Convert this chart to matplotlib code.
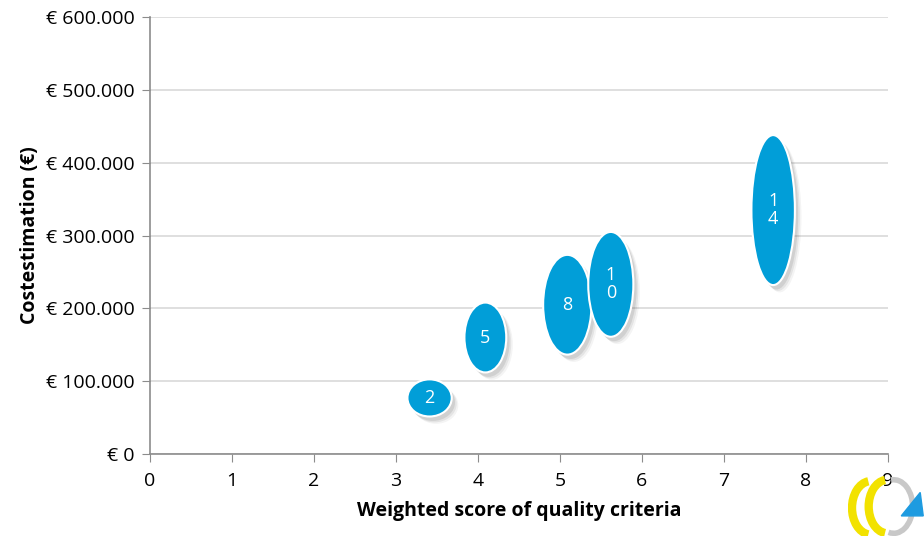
import matplotlib.pyplot as plt
from matplotlib.patches import Ellipse, Polygon, Arc
from matplotlib.ticker import FuncFormatter

# option number, weighted quality score, estimated cost and the spread of each estimate
labels = ["2", "5", "8", "10", "14"]
score = [3.41, 4.09, 5.09, 5.62, 7.60]
cost = [77000, 160000, 205000, 233000, 335000]
score_width = [0.54, 0.51, 0.59, 0.55, 0.53]
cost_height = [51000, 96000, 137000, 144000, 206000]

plt.rcParams['font.family'] = ['Open Sans', 'DejaVu Sans']

fig = plt.figure(figsize=(9.24, 5.36), dpi=100)
ax = fig.add_axes([0.1623, 0.153, 0.7987, 0.815])

blue = "#019ed8"
for lab, x, y, w, h in zip(labels, score, cost, score_width, cost_height):
    # soft shadow below right
    for k, a in enumerate([0.12, 0.09, 0.06]):
        ax.add_patch(Ellipse((x + 0.04 + 0.02 * k, y - 6000 - 2000 * k), w, h,
                             facecolor="#444444", edgecolor="none", alpha=a, zorder=2))
    ax.add_patch(Ellipse((x, y), w, h, facecolor=blue, edgecolor="white",
                         linewidth=1.5, zorder=3))
    txt = "\n".join(lab) if len(lab) > 1 else lab
    ax.text(x, y, txt, color="white", ha="center", va="center", fontsize=13,
            linespacing=1.0, zorder=4)

ax.set_xlim(0, 9)
ax.set_ylim(0, 600000)
ax.set_xticks(range(10))
ax.set_yticks(range(0, 600001, 100000))
ax.yaxis.set_major_formatter(FuncFormatter(
    lambda v, p: "€ " + f"{int(v):,}".replace(",", ".")))
ax.grid(axis="y", color="#d9d9d9", linewidth=1.2, zorder=0)
ax.set_axisbelow(True)
for s in ["top", "right"]:
    ax.spines[s].set_visible(False)
for s in ["left", "bottom"]:
    ax.spines[s].set_color("#8c8c8c")
    ax.spines[s].set_linewidth(1.2)
ax.tick_params(axis="both", colors="#8c8c8c", length=6, labelcolor="black",
               labelsize=14)
ax.tick_params(axis="x", pad=7)
ax.tick_params(axis="y", pad=5)
ax.set_xlabel("Weighted score of quality criteria", fontsize=14, fontweight="bold",
              labelpad=8)
ax.set_ylabel("Costestimation (€)", fontsize=14, fontweight="bold", labelpad=4)

# small ribbon logo in the corner
lg = fig.add_axes([0.918, 0.0, 0.082, 0.125])
lg.set_xlim(0, 10)
lg.set_ylim(0, 10)
lg.axis("off")
lg.add_patch(Arc((3.0, 4.2), 5.0, 8.0, theta1=95, theta2=265, color="#f2e200", linewidth=6))
lg.add_patch(Arc((5.2, 4.4), 5.0, 8.0, theta1=95, theta2=265, color="#f2e200", linewidth=6))
lg.add_patch(Arc((6.0, 4.4), 5.0, 8.0, theta1=-100, theta2=95, color="#c8c8c8", linewidth=4))
lg.add_patch(Polygon([[7.0, 3.0], [9.9, 3.0], [9.5, 6.5]], closed=True, color="#1e9be0"))

fig.savefig("out.png", dpi=100)
